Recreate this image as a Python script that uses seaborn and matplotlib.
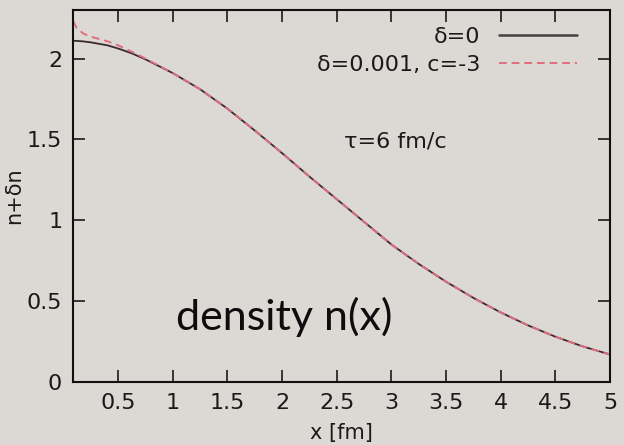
import numpy as np
import pandas as pd
import matplotlib
matplotlib.use("Agg")
import matplotlib.pyplot as plt
import seaborn as sns

# data
x_vals = [0.09, 0.12, 0.18, 0.25, 0.4, 0.5, 0.625, 0.75, 1.0, 1.25, 1.5, 1.75, 2.0, 2.25, 2.5,
          2.75, 3.0, 3.25, 3.5, 3.75, 4.0, 4.25, 4.5, 4.75, 5.0]
n_delta0 = [2.11, 2.109, 2.106, 2.10, 2.082, 2.062, 2.032, 1.995, 1.91, 1.81, 1.69, 1.555, 1.415, 1.27, 1.13,
            0.99, 0.85, 0.73, 0.62, 0.52, 0.43, 0.35, 0.28, 0.22, 0.17]
n_delta1 = [2.23, 2.19, 2.155, 2.135, 2.107, 2.082, 2.042, 2.0, 1.91, 1.81, 1.69, 1.555, 1.415, 1.27, 1.13,
            0.99, 0.85, 0.73, 0.62, 0.52, 0.43, 0.35, 0.28, 0.22, 0.17]
labels = ["δ=0", "δ=0.001, c=-3"]
x_ticks = [0.5, 1, 1.5, 2, 2.5, 3, 3.5, 4, 4.5, 5]
x_ticklabels = ["0.5", "1", "1.5", "2", "2.5", "3", "3.5", "4", "4.5", "5"]
y_ticks = [0, 0.5, 1, 1.5, 2]
y_ticklabels = ["0", "0.5", "1", "1.5", "2"]

df = pd.DataFrame({
    "x": x_vals * 2,
    "n": n_delta0 + n_delta1,
    "series": [labels[0]] * len(x_vals) + [labels[1]] * len(x_vals),
})

sns.set_theme(style="ticks")
plt.rcParams["font.family"] = ["DejaVu Sans"]
bg = "#dcd9d5"
txt = "#1a1a1a"
fig = plt.figure(figsize=(6.24, 4.45), dpi=100, facecolor=bg)
ax = fig.add_axes([0.1175, 0.1416, 0.8601, 0.8359])
ax.set_facecolor(bg)

sns.lineplot(data=df[df.series == labels[0]], x="x", y="n", ax=ax, color="#3b2b2e",
             lw=1.3, sort=False, estimator=None, label=labels[0])
sns.lineplot(data=df[df.series == labels[1]], x="x", y="n", ax=ax, color="#de6f7e",
             lw=1.4, sort=False, estimator=None, label=labels[1])
ax.lines[1].set_dashes([4.0, 2.5])

ax.set_xlim(0.09, 5.0)
ax.set_ylim(0, 2.3)
ax.set_xticks(x_ticks)
ax.set_xticklabels(x_ticklabels)
ax.set_yticks(y_ticks)
ax.set_yticklabels(y_ticklabels)
ax.tick_params(direction="in", length=8.5, width=1.2, top=True, right=True,
               labelsize=16, colors=txt, pad=8)
for s in ax.spines.values():
    s.set_visible(True)
    s.set_linewidth(1.5)
    s.set_color("#111111")

ax.set_xlabel("x [fm]", fontsize=15, labelpad=7, color=txt)
ax.set_ylabel("n+δn", fontsize=15, labelpad=2, color=txt)

leg = ax.legend(loc="upper right", bbox_to_anchor=(0.938, 0.955), frameon=False,
                markerfirst=False, fontsize=16, handlelength=3.5, handletextpad=0.85,
                labelspacing=0.38, borderpad=0, borderaxespad=0)
for t in leg.get_texts():
    t.set_color(txt)
leg.get_lines()[0].set_color("#444040")
leg.get_lines()[0].set_linewidth(1.8)

ax.text(3.04, 1.485, "τ=6 fm/c", fontsize=16, ha="center", va="center", color=txt)
ax.text(1.03, 0.32, "density n(x)", fontsize=31, ha="left", va="baseline",
        family=["Lato", "DejaVu Sans"], color="#0d0d0d")

fig.savefig("out.png", dpi=100, facecolor=bg)
